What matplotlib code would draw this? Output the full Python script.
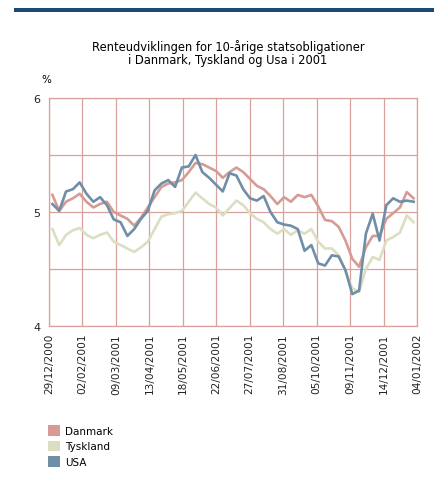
import numpy as np
import matplotlib.pyplot as plt
from matplotlib.patches import Patch

# weekly 10-year government bond yields (%), 29/12/2000 - 04/01/2002
danmark = [5.15, 5.01, 5.09, 5.12, 5.16, 5.09, 5.04, 5.07, 5.09, 5.00,
           4.97, 4.94, 4.88, 4.95, 5.04, 5.13, 5.22, 5.25, 5.26, 5.28,
           5.35, 5.43, 5.42, 5.39, 5.36, 5.30, 5.35, 5.39, 5.35, 5.29,
           5.23, 5.20, 5.14, 5.07, 5.13, 5.09, 5.15, 5.13, 5.15, 5.05,
           4.93, 4.92, 4.87, 4.75, 4.59, 4.52, 4.69, 4.79, 4.79, 4.94,
           4.99, 5.04, 5.175, 5.12]
tyskland = [4.85, 4.71, 4.80, 4.84, 4.86, 4.80, 4.77, 4.80, 4.82, 4.74,
            4.71, 4.68, 4.65, 4.69, 4.74, 4.85, 4.96, 4.98, 4.99, 5.01,
            5.09, 5.17, 5.12, 5.07, 5.04, 4.97, 5.035, 5.10, 5.06, 4.99,
            4.94, 4.91, 4.85, 4.81, 4.85, 4.80, 4.84, 4.81, 4.85, 4.74,
            4.68, 4.68, 4.62, 4.48, 4.33, 4.30, 4.50, 4.605, 4.58, 4.75,
            4.78, 4.82, 4.97, 4.91]
usa = [5.07, 5.01, 5.18, 5.20, 5.26, 5.16, 5.09, 5.13, 5.06, 4.935,
       4.91, 4.79, 4.85, 4.94, 5.01, 5.19, 5.25, 5.28, 5.22, 5.39,
       5.40, 5.50, 5.35, 5.30, 5.24, 5.18, 5.34, 5.32, 5.20, 5.12,
       5.10, 5.14, 5.00, 4.91, 4.89, 4.88, 4.85, 4.66, 4.71, 4.55,
       4.53, 4.62, 4.61, 4.49, 4.28, 4.31, 4.81, 4.985, 4.75, 5.06,
       5.12, 5.09, 5.10, 5.09]
date_labels = ['29/12/2000', '02/02/2001', '09/03/2001', '13/04/2001',
               '18/05/2001', '22/06/2001', '27/07/2001', '31/08/2001',
               '05/10/2001', '09/11/2001', '14/12/2001', '04/01/2002']
series_names = ['Danmark', 'Tyskland', 'USA']

# colours
c_dk = '#d69b95'
c_de = '#dcdec3'
c_us = '#6f8ea8'
c_grid = '#d9a19b'

W, H = 435, 481
fig = plt.figure(figsize=(W / 100, H / 100), dpi=100)

# dark bar at the top
fig.add_artist(plt.Rectangle((14 / W, 1 - 13 / H), 1, 4 / H, transform=fig.transFigure,
                             color='#1b4a72', lw=0))

ax = fig.add_axes([49 / W, 1 - 327 / H, (417 - 49) / W, (327 - 99) / H])

n = len(danmark)
x = np.arange(n) + 0.5
ax.plot(x, danmark, color=c_dk, lw=1.9, zorder=3)
ax.plot(x, tyskland, color=c_de, lw=1.9, zorder=3)
ax.plot(x, usa, color=c_us, lw=1.9, zorder=4)

ax.set_xlim(0, n)
ax.set_ylim(4, 6)
ax.set_xticks(np.linspace(0, n, len(date_labels)))
ax.set_xticklabels(date_labels, rotation=90, fontsize=7.6, color='#222222')
ax.set_yticks([4, 4.5, 5, 5.5, 6])
ax.set_yticklabels(['4', '', '5', '', '6'], fontsize=8, color='#222222')
ax.tick_params(length=0, pad=6)
ax.tick_params(axis='x', pad=5)
ax.grid(True, color=c_grid, lw=0.9)
ax.set_axisbelow(True)
for s in ax.spines.values():
    s.set_color(c_grid)
    s.set_linewidth(0.9)

fig.text(228 / W, 1 - 47 / H, 'Renteudviklingen for 10-årige statsobligationer',
         ha='center', va='center', fontsize=8.3)
fig.text(228 / W, 1 - 61 / H, 'i Danmark, Tyskland og Usa i 2001',
         ha='center', va='center', fontsize=8.3)
fig.text(46 / W, 1 - 80 / H, '%', ha='center', va='center', fontsize=7.5)

handles = [Patch(facecolor=c, edgecolor='none') for c in (c_dk, c_de, c_us)]
fig.legend(handles, series_names, loc='upper left', bbox_to_anchor=(48 / W, 1 - 426 / H),
           frameon=False, fontsize=7.5, handlelength=1.2, handleheight=1.2,
           handletextpad=0.45, labelspacing=0.45, borderpad=0, borderaxespad=0)

fig.savefig('out.png', dpi=100)
